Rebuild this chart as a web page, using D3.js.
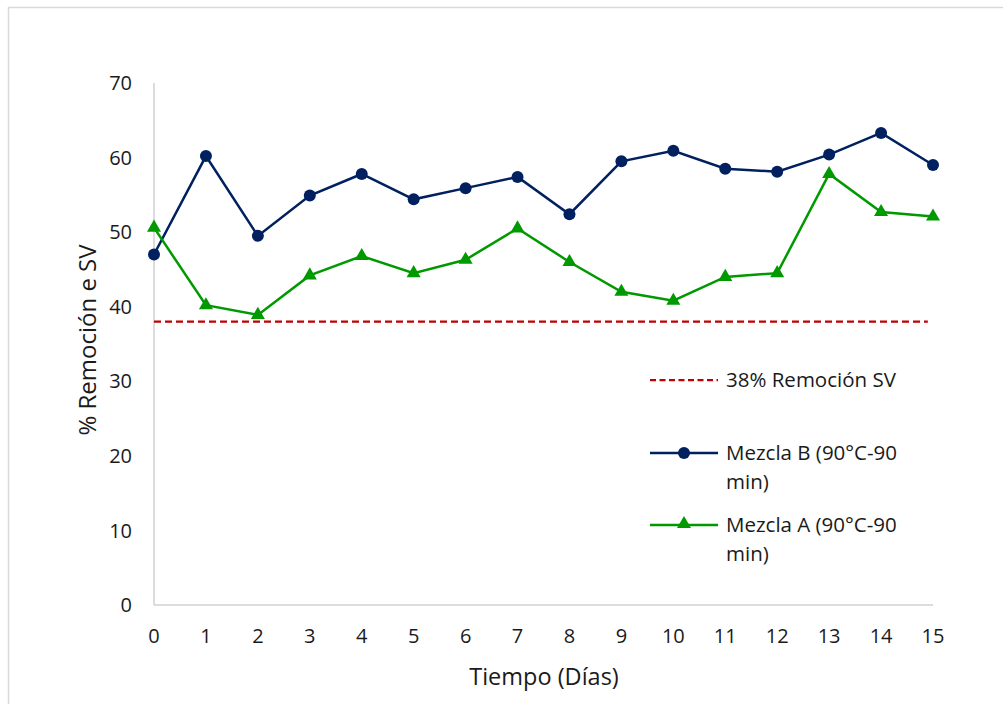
<!DOCTYPE html>
<html><head><meta charset="utf-8">
<script src="https://cdn.jsdelivr.net/npm/d3@7"></script>
<style>body{margin:0;background:#fff;} svg{display:block;font-family:"Open Sans",sans-serif;}</style>
</head><body>
<svg id="c" width="1003" height="704"></svg>
<script>
const days = [0,1,2,3,4,5,6,7,8,9,10,11,12,13,14,15];
const mezclaB = [47.0,60.2,49.5,54.9,57.8,54.4,55.9,57.4,52.4,59.5,60.9,58.5,58.1,60.4,63.3,59.0];
const mezclaA = [50.6,40.2,38.9,44.2,46.8,44.5,46.3,50.5,46.0,42.0,40.8,44.0,44.5,57.8,52.7,52.1];
const threshold = 38;
const yTicks = [0,10,20,30,40,50,60,70];
const labels = {b:"Mezcla B (90°C-90", a:"Mezcla A (90°C-90", cont:"min)", th:"38% Remoción SV"};

const svg = d3.select("#c");
svg.append("rect").attr("x",8.5).attr("y",7.5).attr("width",1100).attr("height",800)
  .attr("fill","none").attr("stroke","#d9d9d9").attr("stroke-width",1.5);

const x = d3.scaleLinear().domain([0,15]).range([154,933]);
const y = d3.scaleLinear().domain([0,70]).range([605,83]);

svg.append("line").attr("x1",x(0)).attr("x2",x(0)).attr("y1",y(70)).attr("y2",y(0)).attr("stroke","#d0d0d0").attr("stroke-width",1.5);
svg.append("line").attr("x1",x(0)).attr("x2",x(15)).attr("y1",y(0)).attr("y2",y(0)).attr("stroke","#d0d0d0").attr("stroke-width",1.5);

const tc = "#1a1a1a";
svg.append("g").selectAll("text").data(yTicks).join("text")
  .attr("x",132).attr("y",d=>y(d)).attr("dy","0.36em").attr("text-anchor","end")
  .attr("font-size",20).attr("fill",tc).text(d=>d);
svg.append("g").selectAll("text").data(days).join("text")
  .attr("x",d=>x(d)).attr("y",636).attr("dy","0.36em").attr("text-anchor","middle")
  .attr("font-size",20).attr("fill",tc).text(d=>d);

svg.append("text").attr("x",544).attr("y",677).attr("dy","0.36em").attr("text-anchor","middle")
  .attr("font-size",23.5).attr("fill",tc).text("Tiempo (Días)");
svg.append("text").attr("transform","translate(87,340) rotate(-90)").attr("dy","0.36em").attr("text-anchor","middle")
  .attr("font-size",24).attr("fill",tc).text("% Remoción e SV");

const navy = "#002060", green = "#009900", red = "#c00000";

svg.append("line").attr("x1",x(0)).attr("x2",x(14.9)).attr("y1",y(threshold)).attr("y2",y(threshold))
  .attr("stroke",red).attr("stroke-width",2.25).attr("stroke-dasharray","7,4");

const line = d3.line().x((d,i)=>x(days[i])).y(d=>y(d));
svg.append("path").datum(mezclaB).attr("d",line).attr("fill","none").attr("stroke",navy).attr("stroke-width",2.5);
svg.append("path").datum(mezclaA).attr("d",line).attr("fill","none").attr("stroke",green).attr("stroke-width",2.5);

svg.append("g").selectAll("circle").data(mezclaB).join("circle")
  .attr("cx",(d,i)=>x(days[i])).attr("cy",d=>y(d)).attr("r",6).attr("fill",navy);
const tri = d3.symbol().type(d3.symbolTriangle).size(85);
svg.append("g").selectAll("path").data(mezclaA).join("path")
  .attr("d",tri).attr("transform",(d,i)=>`translate(${x(days[i])},${y(d)})`).attr("fill",green);

const lg = svg.append("g");
lg.append("line").attr("x1",650).attr("x2",718).attr("y1",380).attr("y2",380).attr("stroke",red).attr("stroke-width",2.25).attr("stroke-dasharray","6,3.5");
lg.append("text").attr("x",726).attr("y",380).attr("dy","0.36em").attr("font-size",20.5).attr("fill",tc).text(labels.th);
lg.append("line").attr("x1",650).attr("x2",718).attr("y1",453).attr("y2",453).attr("stroke",navy).attr("stroke-width",2.5);
lg.append("circle").attr("cx",684).attr("cy",453).attr("r",6).attr("fill",navy);
lg.append("text").attr("x",726).attr("y",453).attr("dy","0.36em").attr("font-size",20.5).attr("fill",tc).text(labels.b);
lg.append("text").attr("x",726).attr("y",482).attr("dy","0.36em").attr("font-size",20.5).attr("fill",tc).text(labels.cont);
lg.append("line").attr("x1",650).attr("x2",718).attr("y1",525).attr("y2",525).attr("stroke",green).attr("stroke-width",2.5);
lg.append("path").attr("d",tri).attr("transform","translate(684,524)").attr("fill",green);
lg.append("text").attr("x",726).attr("y",525).attr("dy","0.36em").attr("font-size",20.5).attr("fill",tc).text(labels.a);
lg.append("text").attr("x",726).attr("y",554).attr("dy","0.36em").attr("font-size",20.5).attr("fill",tc).text(labels.cont);
</script>
</body></html>
